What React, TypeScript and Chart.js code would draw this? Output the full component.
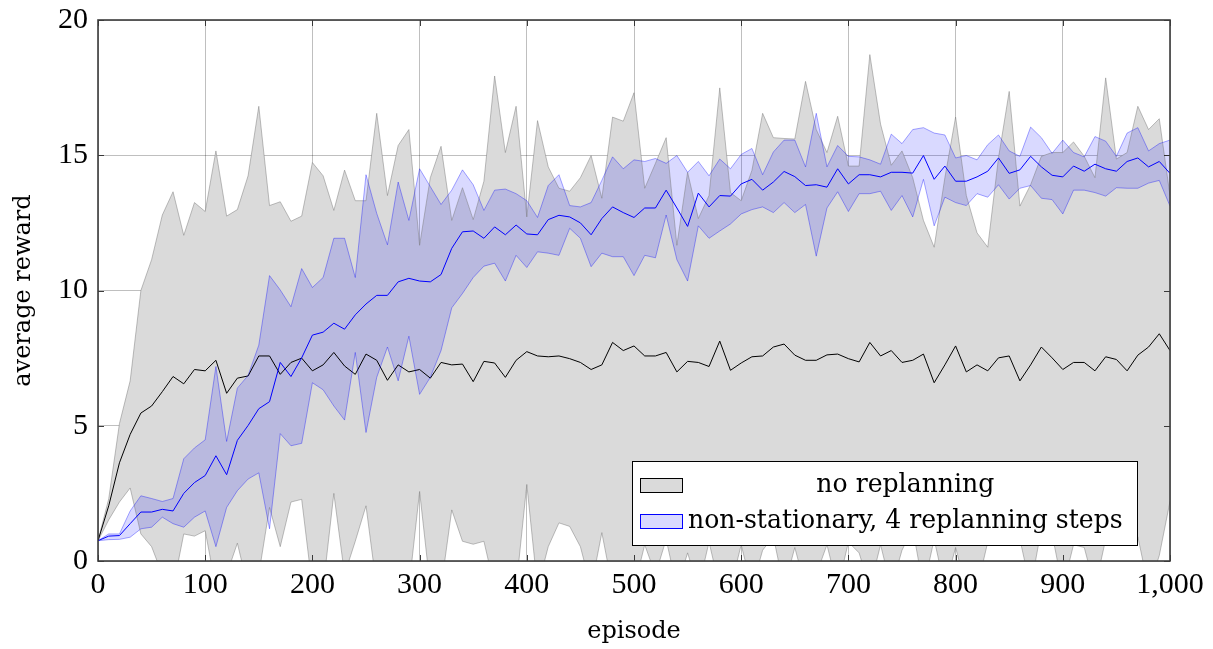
import { useEffect, useRef } from 'react';
import { Chart, registerables } from 'chart.js';

Chart.register(...registerables);

const episodes = [
  0, 10, 20, 30, 40, 50, 60, 70, 80, 90,
  100, 110, 120, 130, 140, 150, 160, 170, 180, 190,
  200, 210, 220, 230, 240, 250, 260, 270, 280, 290,
  300, 310, 320, 330, 340, 350, 360, 370, 380, 390,
  400, 410, 420, 430, 440, 450, 460, 470, 480, 490,
  500, 510, 520, 530, 540, 550, 560, 570, 580, 590,
  600, 610, 620, 630, 640, 650, 660, 670, 680, 690,
  700, 710, 720, 730, 740, 750, 760, 770, 780, 790,
  800, 810, 820, 830, 840, 850, 860, 870, 880, 890,
  900, 910, 920, 930, 940, 950, 960, 970, 980, 990,
  1000,
];

const noReplanMean = [
  0.75, 2.04, 3.63, 4.68, 5.47, 5.73, 6.26, 6.82, 6.55, 7.08,
  7.03, 7.42, 6.2, 6.76, 6.84, 7.58, 7.58, 6.9, 7.34, 7.5,
  7.03, 7.25, 7.71, 7.21, 6.9, 7.65, 7.42, 6.68, 7.25, 6.99,
  7.08, 6.76, 7.34, 7.25, 7.28, 6.63, 7.38, 7.32, 6.79, 7.42,
  7.74, 7.58, 7.55, 7.58, 7.48, 7.34, 7.08, 7.25, 8.08, 7.78,
  7.95, 7.58, 7.58, 7.71, 6.99, 7.38, 7.34, 7.19, 8.13, 7.05,
  7.32, 7.55, 7.58, 7.91, 8.02, 7.61, 7.42, 7.42, 7.62, 7.65,
  7.48, 7.36, 8.08, 7.58, 7.78, 7.34, 7.42, 7.65, 6.59, 7.25,
  7.95, 6.99, 7.25, 7.03, 7.51, 7.58, 6.66, 7.25, 7.91, 7.51,
  7.08, 7.34, 7.34, 7.03, 7.55, 7.45, 7.03, 7.61, 7.91, 8.4,
  7.78,
];

const noReplanUpper = [
  0.75, 2.3, 5.08, 6.66, 10.0, 11.14, 12.79, 13.65, 12.04, 13.25,
  12.92, 15.16, 12.75, 12.99, 14.24, 16.81, 13.14, 13.28, 12.56, 12.75,
  14.73, 14.24, 12.96, 14.45, 13.32, 13.32, 16.55, 13.51, 15.36, 15.95,
  11.67, 14.17, 15.33, 12.59, 13.8, 12.62, 14.04, 17.93, 15.1, 16.81,
  12.72, 16.28, 14.57, 13.78, 13.67, 14.17, 14.99, 13.41, 16.41, 16.26,
  17.31, 13.78, 14.7, 15.65, 11.67, 14.37, 12.66, 13.51, 17.49, 13.62,
  13.32, 14.44, 16.55, 15.65, 15.62, 15.6, 17.73, 15.95, 15.1, 16.44,
  14.6, 14.6, 18.72, 16.15, 14.63, 15.16, 14.17, 12.59, 11.6, 14.17,
  16.41, 13.51, 12.13, 11.6, 14.9, 17.36, 13.12, 13.91, 14.96, 15.1,
  15.1, 15.49, 14.96, 14.17, 17.86, 14.86, 15.1, 16.81, 15.95, 16.35,
  13.51,
];

const noReplanLower = [
  0.75, 1.52, 2.18, 2.7, 1.0, 0.53, -0.5, -1, 1.0, 0.92,
  1.12, -1, -0.5, 0.66, -1, -0.5, 1.98, 0.53, 2.18, 2.28,
  -1, -1, 2.5, -0.5, 0.73, 2.04, -1, -1, -1, -1,
  2.57, -1, -1, 1.89, 0.73, 0.62, 0.73, -1, -1, -1,
  2.83, -1, 0.53, 1.41, 1.28, 0.53, -1, 1.05, -1, -1,
  -1, 0.6, -0.5, 0.8, -1, 0.3, -1, 0.7, -1, -1,
  0.6, -1, 0.4, 0.9, -1, 0.5, -1, -0.5, 0.6, -1,
  0.7, 0.3, -1, 0.6, -1, 0.4, 1.2, -1, 0.8, -1,
  0.5, -1, -1, 0.7, 1.5, 1.8, 0.8, -1, 1.2, 1.0,
  -1, 0.6, 0.5, -1, 0.8, 1.0, 1.2, 0.9, -1, 0.2,
  2.2,
];

const replanMean = [
  0.75, 0.92, 0.94, 1.38, 1.81, 1.81, 1.91, 1.85, 2.5, 2.9,
  3.16, 3.89, 3.19, 4.46, 5.01, 5.63, 5.89, 7.34, 6.82, 7.51,
  8.35, 8.46, 8.79, 8.57, 9.1, 9.5, 9.82, 9.82, 10.32, 10.45,
  10.35, 10.32, 10.59, 11.56, 12.17, 12.2, 11.93, 12.35, 12.06, 12.42,
  12.09, 12.06, 12.62, 12.78, 12.72, 12.5, 12.06, 12.66, 13.09, 12.88,
  12.7, 13.05, 13.05, 13.71, 13.05, 12.37, 13.6, 13.09, 13.51, 13.49,
  13.94, 14.11, 13.71, 14.01, 14.4, 14.21, 13.88, 13.91, 13.82, 14.5,
  13.94, 14.28, 14.28, 14.2, 14.37, 14.37, 14.34, 14.99, 14.11, 14.6,
  14.04, 14.04, 14.2, 14.41, 14.9, 14.33, 14.46, 14.96, 14.57, 14.26,
  14.2, 14.6, 14.41, 14.67, 14.5, 14.41, 14.77, 14.9, 14.57, 14.77,
  14.33,
];

const replanUpper = [
  0.75, 1.0, 1.0, 1.85, 2.41, 2.31, 2.2, 2.31, 3.78, 4.18,
  4.48, 7.19, 4.42, 6.39, 6.86, 7.98, 10.55, 10.02, 9.4, 10.81,
  10.11, 10.48, 11.93, 11.93, 10.48, 14.28, 12.85, 11.69, 14.01, 12.59,
  14.5, 13.84, 13.18, 13.71, 14.46, 13.91, 12.96, 13.71, 13.75, 13.58,
  13.32, 12.7, 13.88, 14.28, 13.14, 13.09, 13.25, 14.07, 14.94, 14.5,
  14.83, 14.77, 14.88, 14.7, 14.99, 14.37, 14.77, 14.24, 14.86, 14.5,
  15.03, 15.25, 14.28, 15.12, 15.56, 15.56, 14.57, 16.55, 14.57, 15.36,
  14.96, 14.94, 14.83, 14.67, 15.78, 15.43, 15.95, 16.02, 15.82, 15.75,
  14.9, 14.99, 14.83, 15.39, 15.75, 15.16, 14.96, 16.04, 15.65, 15.07,
  15.56, 15.1, 14.94, 15.69, 15.52, 14.96, 15.82, 16.02, 15.16, 15.43,
  15.56,
];

const replanLower = [
  0.75, 0.79, 0.8, 0.88, 1.19, 1.25, 1.62, 1.38, 1.25, 1.62,
  1.85, 0.53, 1.98, 2.6, 3.03, 3.26, 1.19, 4.71, 4.26, 4.35,
  6.59, 6.33, 5.73, 5.21, 7.71, 4.75, 6.79, 7.91, 6.66, 8.31,
  6.16, 6.79, 7.78, 9.36, 9.89, 10.48, 10.9, 11.01, 10.35, 11.3,
  10.85, 11.43, 11.38, 11.3, 12.3, 11.93, 10.88, 11.38, 11.25, 11.25,
  10.55, 11.3, 11.21, 12.79, 11.14, 10.35, 12.39, 11.93, 12.2, 12.46,
  12.83, 12.99, 13.09, 12.88, 13.25, 12.88, 13.18, 11.27, 13.05, 13.65,
  12.92, 13.58, 13.58, 13.67, 12.96, 13.51, 12.72, 14.11, 12.39, 13.45,
  13.25, 13.14, 13.58, 13.45, 13.91, 13.38, 13.78, 13.88, 13.41, 13.36,
  12.83, 13.71, 13.71, 13.62, 13.49, 13.8, 13.78, 13.78, 13.97, 14.07,
  13.12,
];

const legendLabels = ['no replanning', 'non-stationary, 4 replanning steps'];
const xAxisTitle = 'episode';
const yAxisTitle = 'average reward';

const toPoints = (ys: number[]) => episodes.map((x, i) => ({ x, y: ys[i] }));

const GRAY_FILL = 'rgb(218,218,218)';
const GRAY_EDGE = 'rgba(120,120,120,0.6)';
const BLUE_FILL = 'rgba(0,0,255,0.15)';
const BLUE_EDGE = 'rgba(0,0,255,0.35)';

const framePlugin = {
  id: 'frameAndLegend',
  afterDraw(chart: any) {
    const { ctx, chartArea: a, scales } = chart;
    ctx.save();
    ctx.strokeStyle = 'rgba(40,40,40,0.9)';
    ctx.lineWidth = 1;
    const tl = 6;
    scales.x.ticks.forEach((t: any) => {
      const px = Math.round(scales.x.getPixelForValue(t.value)) + 0.5;
      ctx.beginPath();
      ctx.moveTo(px, a.bottom);
      ctx.lineTo(px, a.bottom - tl);
      ctx.moveTo(px, a.top);
      ctx.lineTo(px, a.top + tl);
      ctx.stroke();
    });
    scales.y.ticks.forEach((t: any) => {
      const py = Math.round(scales.y.getPixelForValue(t.value)) + 0.5;
      ctx.beginPath();
      ctx.moveTo(a.left, py);
      ctx.lineTo(a.left + tl, py);
      ctx.moveTo(a.right, py);
      ctx.lineTo(a.right - tl, py);
      ctx.stroke();
    });
    ctx.strokeStyle = '#3c3c3c';
    ctx.lineWidth = 1.6;
    ctx.strokeRect(a.left, a.top, a.right - a.left, a.bottom - a.top);

    const boxW = 505;
    const boxH = 84;
    const boxRight = a.right - 33;
    const boxBottom = a.bottom - 16;
    const bx = boxRight - boxW;
    const by = boxBottom - boxH;
    ctx.fillStyle = '#fff';
    ctx.fillRect(bx, by, boxW, boxH);
    ctx.strokeStyle = '#000';
    ctx.lineWidth = 1;
    ctx.strokeRect(bx + 0.5, by + 0.5, boxW, boxH);

    const family = '"DejaVu Serif", serif';
    ctx.font = `24px ${family}`;
    const target = 435;
    const w24 = ctx.measureText(legendLabels[1]).width;
    const fs = (24 * target) / w24;
    ctx.font = `${fs}px ${family}`;
    const swX = bx + 8;
    const swW = 42;
    const swH = 14;
    const textLeft = swX + swW + 6;
    const colW = Math.max(...legendLabels.map((l) => ctx.measureText(l).width));
    const rows = [by + 24, by + 60];
    const fills = [GRAY_FILL, 'rgb(217,217,255)'];
    const strokes = ['#000', '#0000ff'];
    rows.forEach((cy, i) => {
      ctx.fillStyle = fills[i];
      ctx.fillRect(swX, cy - swH / 2, swW, swH);
      ctx.strokeStyle = strokes[i];
      ctx.lineWidth = 1;
      ctx.strokeRect(swX + 0.5, cy - swH / 2 + 0.5, swW, swH);
      ctx.fillStyle = '#000';
      ctx.textBaseline = 'middle';
      ctx.textAlign = 'center';
      ctx.fillText(legendLabels[i], textLeft + colW / 2, cy);
    });
    ctx.restore();
  },
};

export default function App() {
  const canvasRef = useRef<HTMLCanvasElement | null>(null);

  useEffect(() => {
    document.body.style.margin = '0';
    document.body.style.overflow = 'hidden';
    const canvas = canvasRef.current;
    if (!canvas) return;
    const tickFont = { family: '"Liberation Serif", serif', size: 30 };
    const titleFont = { family: '"DejaVu Serif", serif', size: 24 };

    const chart = new Chart(canvas, {
      type: 'line',
      data: {
        datasets: [
          {
            label: 'noReplanLower',
            data: toPoints(noReplanLower),
            borderColor: GRAY_EDGE,
            borderWidth: 0.8,
            pointRadius: 0,
            fill: false,
            order: 6,
          },
          {
            label: legendLabels[0] + ' upper',
            data: toPoints(noReplanUpper),
            borderColor: GRAY_EDGE,
            borderWidth: 0.8,
            backgroundColor: GRAY_FILL,
            pointRadius: 0,
            fill: '-1',
            order: 5,
          },
          {
            label: legendLabels[0],
            data: toPoints(noReplanMean),
            borderColor: '#000',
            borderWidth: 1,
            pointRadius: 0,
            fill: false,
            order: 4,
          },
          {
            label: 'replanLower',
            data: toPoints(replanLower),
            borderColor: BLUE_EDGE,
            borderWidth: 1,
            pointRadius: 0,
            fill: false,
            order: 3,
          },
          {
            label: legendLabels[1] + ' upper',
            data: toPoints(replanUpper),
            borderColor: BLUE_EDGE,
            borderWidth: 1,
            backgroundColor: BLUE_FILL,
            pointRadius: 0,
            fill: '-1',
            order: 2,
          },
          {
            label: legendLabels[1],
            data: toPoints(replanMean),
            borderColor: '#0000ff',
            borderWidth: 1,
            pointRadius: 0,
            fill: false,
            order: 1,
          },
        ],
      },
      options: {
        responsive: false,
        animation: false,
        layout: { padding: { top: 20, right: 43, left: 0, bottom: 0 } },
        plugins: {
          legend: { display: false },
          tooltip: { enabled: false },
          filler: { drawTime: 'beforeDatasetsDraw' },
        },
        scales: {
          x: {
            type: 'linear',
            min: 0,
            max: 1000,
            z: 1,
            border: { display: false },
            grid: { color: 'rgba(0,0,0,0.25)', lineWidth: 1, drawTicks: false },
            ticks: { stepSize: 100, maxRotation: 0, autoSkip: false, padding: 6, color: '#000', font: tickFont },
            title: { display: true, text: xAxisTitle, color: '#000', font: titleFont, padding: { top: 0, bottom: 3 } },
            afterFit: (s: any) => {
              s.height = 88;
              s.paddingLeft = 0;
              s.paddingRight = 0;
            },
          },
          y: {
            type: 'linear',
            min: 0,
            max: 20,
            z: 1,
            border: { display: false },
            grid: { color: 'rgba(0,0,0,0.25)', lineWidth: 1, drawTicks: false },
            ticks: { stepSize: 5, padding: 10, color: '#000', font: tickFont },
            title: { display: true, text: yAxisTitle, color: '#000', font: titleFont, padding: { top: 9, bottom: 0 } },
            afterFit: (s: any) => {
              s.width = 98;
              s.paddingTop = 0;
              s.paddingBottom = 0;
            },
          },
        },
      },
      plugins: [framePlugin],
    });
    return () => chart.destroy();
  }, []);

  return (
    <div style={{ width: 1213, height: 649 }}>
      <canvas ref={canvasRef} width={1213} height={649} style={{ display: 'block' }} />
    </div>
  );
}
